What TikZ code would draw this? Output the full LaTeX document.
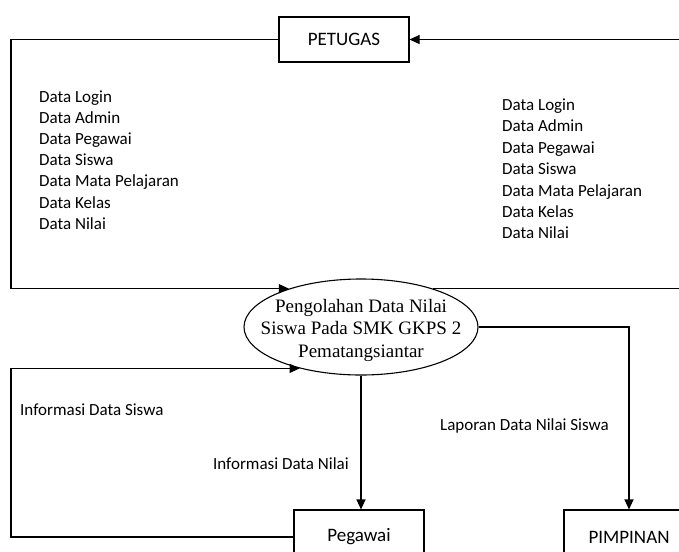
\documentclass[tikz,border=0pt]{standalone}
\usepackage{fontspec}
\setmainfont{Carlito}
\newfontfamily\tnr{Liberation Serif}
\usetikzlibrary{shapes.geometric,arrows.meta}
\begin{document}
\begin{tikzpicture}[x=1pt,y=-1pt,
  box/.style={draw, line width=1.1pt, minimum width=130pt, inner sep=0pt, font=\fontsize{19}{22}\selectfont},
  flow/.style={line width=1.1pt, -{Triangle[length=10pt,width=9pt]}},
  lbl/.style={inner sep=0pt, font=\fontsize{17}{20}\selectfont}]
\useasboundingbox[fill=white] (0,0) rectangle (679,551);
\node[box, minimum height=45pt] (pet) at (344,39.5) {PETUGAS};
\node[draw, ellipse, line width=1.1pt, minimum width=234pt, minimum height=96pt, inner sep=0pt] (ell) at (361,327) {};
\node[align=center, inner sep=0pt, font=\tnr\fontsize{19}{22.5}\selectfont] (ellt) at (361,330) {Pengolahan Data Nilai\\Siswa Pada SMK GKPS 2\\Pematangsiantar};
\node[box, minimum height=54pt] (peg) at (359,537) {Pegawai};
\node[box, minimum height=54pt] (pim) at (629,537) {PIMPINAN};
\coordinate (L) at (11,0);
\coordinate (R) at (690,0);
\foreach \t [count=\i] in {Data Login,Data Admin,Data Pegawai,Data Siswa,Data Mata Pelajaran,Data Kelas,Data Nilai}{
  \node[lbl, anchor=base west] (a\i) at (39,{102+(\i-1)*21.2}) {\t};
  \node[lbl, anchor=base west] (b\i) at (502,{110.5+(\i-1)*21.4}) {\t};
}
\node[lbl, anchor=base west] (isiswa) at (20,415) {Informasi Data Siswa};
\node[lbl, anchor=base west] (lap) at (440,430) {Laporan Data Nilai Siswa};
\node[lbl, anchor=base east] (inilai) at (349,469.5) {Informasi Data Nilai};
\draw[flow] (pet.west) -- (pet.west -| L) |- (ell.152);
\draw[flow] (ell.28) -- (ell.28 -| R) |- (pet.east);
\draw[flow] (peg.west) -- (peg.west -| L) |- (ell.214);
\draw[flow] (ell.south) -- (ell.south |- peg.north);
\draw[flow] (ell.east) -| (pim.north);
\end{tikzpicture}
\end{document}
